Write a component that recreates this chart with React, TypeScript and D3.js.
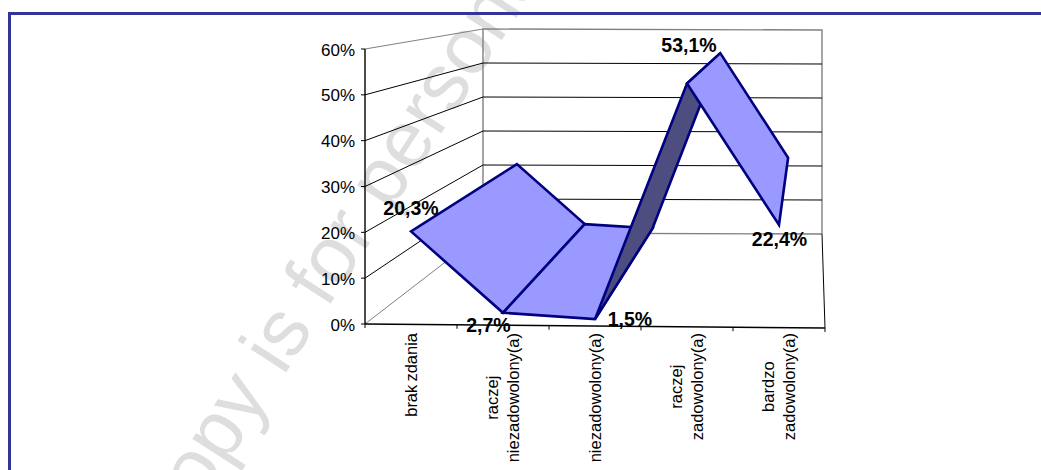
import * as d3 from 'd3'

const categories = [
  ['brak zdania'],
  ['raczej', 'niezadowolony(a)'],
  ['niezadowolony(a)'],
  ['raczej', 'zadowolony(a)'],
  ['bardzo', 'zadowolony(a)'],
]
const values = [20.3, 2.7, 1.5, 53.1, 22.4]
const valueLabels = ['20,3%', '2,7%', '1,5%', '53,1%', '22,4%']
const yTicks = [0, 10, 20, 30, 40, 50, 60]

const font = '"Liberation Sans", Arial, sans-serif'
const lightFill = '#9999ff'
const darkFill = '#4d4d80'
const navy = '#000080'
const wallGrey = '#808080'

// front plane of the fake 3D box and the back wall, each has its own scales
const frontX = d3.scaleLinear().domain([0, 5]).range([365, 825])
const backX = d3.scaleLinear().domain([0, 5]).range([483, 822])
const frontY = d3.scaleLinear().domain([0, 60]).range([324, 49])
const backY = d3.scaleLinear().domain([0, 60]).range([233, 29])

// both planes lean a little towards the right
const frontTilt = d3.scaleLinear().domain([0, 5]).range([0, 4])
const backTilt = d3.scaleLinear().domain([0, 5]).range([0, 1])

type Pt = [number, number]
const front = (i: number, v: number): Pt => [frontX(i), frontY(v) + frontTilt(i)]
const back = (i: number, v: number): Pt => [backX(i), backY(v) + backTilt(i)]

const line = d3.line<Pt>()

// label offsets from the front edge point of each value
const labelDx = [0, -14.5, 35, 2, 0.5]
const labelDy = [-16, 19, 7, -31, 21]

const categoryFontSize = 16.5
const wordGap = -1.5

// longest wrapped line decides how far the block hangs below the axis
function blockLength(lines: string[]) {
  const ctx = document.createElement('canvas').getContext('2d')!
  ctx.font = `${categoryFontSize}px ${font}`
  return d3.max(lines, l => ctx.measureText(l).width + (l.split(' ').length - 1) * wordGap) as number
}

export default function App() {
  const segments = values.slice(1).map((v, k) => {
    const a = values[k]
    return {
      path: line([
        front(k + 0.5, a),
        front(k + 1.5, v),
        back(k + 1.5, v),
        back(k + 0.5, a),
      ])! + 'Z',
      // the rising face turns away from the light
      fill: v - a > 20 ? darkFill : lightFill,
    }
  })

  return (
    <svg
      width={1041}
      height={470}
      style={{ position: 'absolute', left: 0, top: 0 }}
      fontFamily={font}
    >
      <rect x={0} y={0} width={1041} height={470} fill="#fff" />

      <text
        transform="translate(179,537) rotate(-57)"
        fontSize={80}
        fill="#dedede"
      >
        copy is for personal use only
      </text>

      <rect x={8} y={12} width={1033} height={3} fill="#333399" />
      <rect x={8} y={12} width={3} height={458} fill="#333399" />

      {/* back wall and floor edges */}
      <path
        d={line([back(0, 0), back(0, 60), back(5, 60), back(5, 0)])!}
        fill="none"
        stroke={wallGrey}
        strokeWidth={1.4}
      />
      <path d={line([front(0, 0), back(0, 0)])!} stroke={wallGrey} fill="none" />
      <path d={line([front(0, 60), back(0, 60)])!} stroke={wallGrey} fill="none" />
      <path d={line([back(0, 0), back(5, 0)])!} stroke={wallGrey} strokeWidth={1.4} fill="none" />

      {/* gridlines on side wall and back wall */}
      {yTicks.slice(1, -1).map(t => (
        <path
          key={t}
          d={line([front(0, t), back(0, t), back(5, t)])!}
          fill="none"
          stroke="#000"
          strokeWidth={1}
        />
      ))}

      {/* axes */}
      <path d={line([front(0, 0), front(0, 60)])!} stroke="#000" strokeWidth={1.4} fill="none" />
      <path d={line([front(0, 0), front(5, 0)])!} stroke="#000" fill="none" strokeWidth={1.6} />
      <path d={line([back(5, 0), front(5, 0)])!} stroke="#000" fill="none" />
      {yTicks.map(t => (
        <g key={t}>
          <line
            x1={frontX(0) - 4}
            x2={frontX(0)}
            y1={frontY(t)}
            y2={frontY(t)}
            stroke="#000"
          />
          <text x={355} y={frontY(t) + 6.5} textAnchor="end" fontSize={17}>
            {t}%
          </text>
        </g>
      ))}
      {d3.range(0, 6).map(i => (
        <line
          key={i}
          x1={frontX(i)}
          x2={frontX(i)}
          y1={frontY(0) + frontTilt(i)}
          y2={frontY(0) + frontTilt(i) + 4}
          stroke="#000"
        />
      ))}

      {/* ribbon */}
      {segments.map((s, i) => (
        <path
          key={i}
          d={s.path}
          fill={s.fill}
          stroke={navy}
          strokeWidth={2.6}
          strokeLinejoin="miter"
        />
      ))}

      {/* value labels */}
      {values.map((v, i) => {
        const [x, y] = front(i + 0.5, v)
        return (
          <text
            key={i}
            x={x + labelDx[i]}
            y={y + labelDy[i]}
            textAnchor="middle"
            fontSize={19.5}
            fontWeight="bold"
          >
            {valueLabels[i]}
          </text>
        )
      })}

      {/* category labels, wrapped and rotated */}
      {categories.map((lines, i) => (
        <g key={i} transform={`translate(${frontX(i + 0.5)},333) rotate(-90)`}>
          {lines.map((l, k) => (
            <text
              key={k}
              x={-blockLength(lines) / 2}
              y={5.5 + (k - (lines.length - 1) / 2) * 21}
              textAnchor="middle"
              fontSize={categoryFontSize}
              wordSpacing={wordGap}
            >
              {l}
            </text>
          ))}
        </g>
      ))}
    </svg>
  )
}
